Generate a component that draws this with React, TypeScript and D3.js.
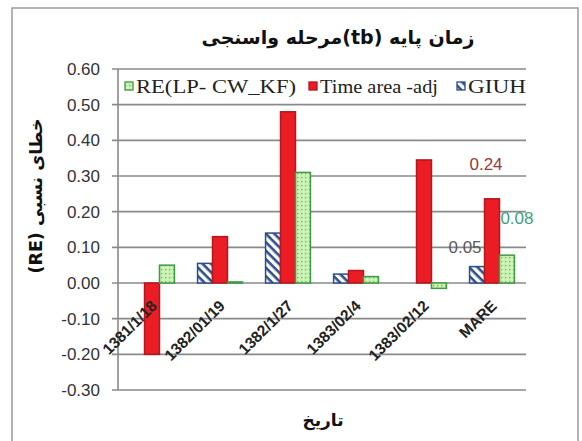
import React from 'react';
import * as d3 from 'd3';

const categories = ['1381/1/18', '1382/01/19', '1382/1/27', '1383/02/4', '1383/02/12', 'MARE'];
const seriesNames = ['GIUH', 'Time area -adj', 'RE(LP- CW_KF)'];
const giuhValues = [0, 0.055, 0.14, 0.025, 0, 0.046];
const timeAreaValues = [-0.2, 0.13, 0.48, 0.035, 0.345, 0.236];
const reLpValues = [0.05, 0.003, 0.31, 0.018, -0.015, 0.078];
const yTickValues = [-0.3, -0.2, -0.1, 0, 0.1, 0.2, 0.3, 0.4, 0.5, 0.6];
const legendOrder = ['RE(LP- CW_KF)', 'Time area -adj', 'GIUH'];
const title = 'زمان پایه (tb)مرحله واسنجی';
const yTitle = '(RE) خطای نسبی';
const xTitle = 'تاریخ';

const W = 582;
const H = 441;
const plot = { left: 118, right: 526, top: 69, bottom: 390 };

const fills: Record<string, string> = {
  'GIUH': 'url(#hatchGiuh)',
  'Time area -adj': '#ec1c24',
  'RE(LP- CW_KF)': 'url(#dotGreen)',
};
const strokes: Record<string, string> = {
  'GIUH': '#2b4d8c',
  'Time area -adj': '#b3161b',
  'RE(LP- CW_KF)': '#3f9a45',
};
const labelColors: Record<string, string> = {
  'GIUH': '#5a5a5a',
  'Time area -adj': '#963a3a',
  'RE(LP- CW_KF)': '#3e9f78',
};

export default function App() {
  const valuesBySeries: Record<string, number[]> = {
    'GIUH': giuhValues,
    'Time area -adj': timeAreaValues,
    'RE(LP- CW_KF)': reLpValues,
  };
  const y = d3.scaleLinear().domain([-0.3, 0.6]).range([plot.bottom, plot.top]);
  const x0 = d3.scaleBand<string>().domain(categories).range([plot.left, plot.right]).paddingInner(0.34).paddingOuter(0.17);
  const x1 = d3.scaleBand<string>().domain(seriesNames).range([0, x0.bandwidth()]);
  const f2 = d3.format('.2f');
  const fmt = (v: number) => f2(v).replace('\u2212', '-');
  const sans = "'Liberation Sans', Arial, sans-serif";
  const serif = "'Liberation Serif', 'Times New Roman', serif";
  const persian = "'DejaVu Sans', sans-serif";

  const last = categories[categories.length - 1];
  const lastIdx = categories.length - 1;
  // data label offsets (MARE group)
  const labelOffsets: Record<string, [number, number]> = {
    'GIUH': [-12, -20],
    'Time area -adj': [-6, -35],
    'RE(LP- CW_KF)': [10, -37],
  };

  const legendX: Record<string, number> = { 'RE(LP- CW_KF)': 125, 'Time area -adj': 309, 'GIUH': 457 };
  const legendLen: Record<string, number> = { 'RE(LP- CW_KF)': 160, 'Time area -adj': 118, 'GIUH': 58 };
  const legendY = 86;

  return (
    <svg width={W} height={H} style={{ position: 'absolute', left: 0, top: 0, background: '#fff' }}>
      <defs>
        <pattern id="hatchGiuh" patternUnits="userSpaceOnUse" width="6" height="6" patternTransform="rotate(45)">
          <rect width="6" height="6" fill="#ffffff" />
          <rect x="0" y="0" width="6" height="2.6" fill="#2d4f8e" />
        </pattern>
        <pattern id="dotGreen" patternUnits="userSpaceOnUse" width="4" height="4">
          <rect width="4" height="4" fill="#c9f1b4" />
          <rect x="1" y="1" width="1.3" height="1.3" fill="#6fbf52" />
          <rect x="3" y="3" width="1" height="1" fill="#e9fbe0" />
        </pattern>
      </defs>
      <rect x={12} y={8} width={566} height={440} fill="#fff" stroke="#9a9a9a" strokeWidth={1.5} />

      <text x={338} y={44} textAnchor="middle" direction="rtl" fontFamily={persian} fontWeight="bold" fontSize={19} fill="#111">{title}</text>

      {yTickValues.map((t) => (
        <g key={t}>
          <line x1={plot.left - 6} x2={plot.right} y1={y(t)} y2={y(t)} stroke="#8a8a8a" strokeWidth={1.6} />
          <text x={100} y={y(t)} dy="0.35em" textAnchor="end" fontFamily={sans} fontSize={17} fill="#333">{fmt(t)}</text>
        </g>
      ))}
      <line x1={plot.left} x2={plot.left} y1={plot.top} y2={plot.bottom} stroke="#8a8a8a" strokeWidth={1.6} />

      {categories.map((c, i) => (
        <g key={c}>
          {seriesNames.map((s) => {
            const v = valuesBySeries[s][i];
            const bx = (x0(c) as number) + (x1(s) as number);
            const y0 = y(0);
            const yv = y(v);
            const top = Math.min(y0, yv);
            const h = Math.abs(y0 - yv);
            if (h < 0.5) return null;
            return <rect key={s} x={bx} y={top} width={x1.bandwidth()} height={h} fill={fills[s]} stroke={strokes[s]} strokeWidth={1.5} />;
          })}
        </g>
      ))}

      {categories.map((c) => {
        const cx = (x0(c) as number) + x0.bandwidth() / 2;
        return (
          <text key={c} transform={`translate(${cx + 2},${y(0) + 20}) rotate(-45)`} textAnchor="end" dy="0.35em" fontFamily={sans} fontWeight="bold" fontSize={15.5} fill="#222">{c}</text>
        );
      })}

      {seriesNames.map((s) => {
        const v = valuesBySeries[s][lastIdx];
        const bx = (x0(last) as number) + (x1(s) as number) + x1.bandwidth() / 2;
        const [dx, dy] = labelOffsets[s];
        return (
          <text key={s} x={bx + dx} y={y(v) + dy} dy="0.35em" textAnchor="middle" fontFamily={sans} fontSize={17} fill={labelColors[s]}>{fmt(v)}</text>
        );
      })}

      {legendOrder.map((s) => (
        <g key={s}>
          <rect x={legendX[s]} y={legendY - 4} width={8} height={8} fill={fills[s]} stroke={strokes[s]} strokeWidth={1.3} />
          <text x={legendX[s] + 11} y={legendY} dy="0.35em" fontFamily={serif} fontSize={19} fill="#222" textLength={legendLen[s]} lengthAdjust="spacingAndGlyphs">{s}</text>
        </g>
      ))}

      <text transform={`translate(36,196) rotate(-90)`} textAnchor="middle" dy="0.35em" fontFamily={persian} fontWeight="bold" fontSize={17.5} fill="#111">{yTitle}</text>
      <text x={323} y={420} textAnchor="middle" dy="0.35em" fontFamily={persian} fontWeight="bold" fontSize={17} fill="#111">{xTitle}</text>
    </svg>
  );
}
